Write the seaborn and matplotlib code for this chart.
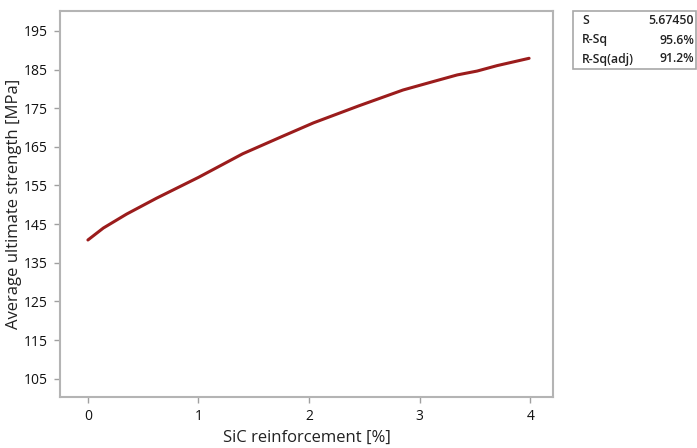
import matplotlib
matplotlib.use('Agg')
import matplotlib.pyplot as plt
import seaborn as sns
import pandas as pd
from matplotlib.patches import Rectangle

# fitted line
sic = [0.0, 0.14, 0.35, 0.62, 1.0, 1.40, 1.75, 2.04, 2.45, 2.85, 3.10, 3.34, 3.52, 3.70, 3.99]
strength = [140.9, 144.0, 147.6, 151.7, 157.1, 163.2, 167.6, 171.2, 175.6, 179.7, 181.7, 183.6, 184.6, 186.0, 187.9]

stat_names = ['S', 'R-Sq', 'R-Sq(adj)']
stat_values = ['5.67450', '95.6%', '91.2%']

xticks = [0, 1, 2, 3, 4]
yticks = [105, 115, 125, 135, 145, 155, 165, 175, 185, 195]

df = pd.DataFrame({'SiC': sic, 'strength': strength})

sns.set_style('white')
plt.rcParams['font.family'] = ['Open Sans', 'DejaVu Sans']

fig = plt.figure(figsize=(6.97, 4.48), dpi=100)
ax = fig.add_axes([0.086, 0.114, 0.708, 0.862])

sns.lineplot(data=df, x='SiC', y='strength', ax=ax, color='#9b1c1c', linewidth=2.2)

ax.set_xlim(-0.253, 4.21)
ax.set_ylim(100.3, 200.2)
ax.set_xticks(xticks)
ax.set_yticks(yticks)
ax.set_xlabel('SiC reinforcement [%]', fontsize=12, color='#222222')
ax.set_ylabel('Average ultimate strength [MPa]', fontsize=12, color='#222222')
ax.xaxis.set_label_coords(0.5, -0.085)
ax.yaxis.set_label_coords(-0.077, 0.5)
ax.tick_params(axis='both', direction='out', length=4, width=1, color='#a0a0a0',
               labelsize=10, labelcolor='#111111', bottom=True, left=True, pad=5)
for lab in ax.get_xticklabels() + ax.get_yticklabels():
    lab.set_fontweight('medium')
for s in ax.spines.values():
    s.set_color('#b4b4b4')
    s.set_linewidth(1.5)

# summary table box
W, H = 697, 448
fig.patches.append(Rectangle((573 / W, 1 - 69 / H), (696 - 573) / W, 58 / H,
                             transform=fig.transFigure, fill=False,
                             edgecolor='#a8a8a8', linewidth=1.2))
rows_y = [21, 40, 59]
for name, val, yy in zip(stat_names, stat_values, rows_y):
    fig.text(582 / W, 1 - yy / H, name, fontsize=8.8, va='center', ha='left',
             fontweight='semibold', color='#222222')
    fig.text(694 / W, 1 - yy / H, val, fontsize=8.8, va='center', ha='right',
             fontweight='semibold', color='#222222')

fig.savefig('out.png', dpi=100)
